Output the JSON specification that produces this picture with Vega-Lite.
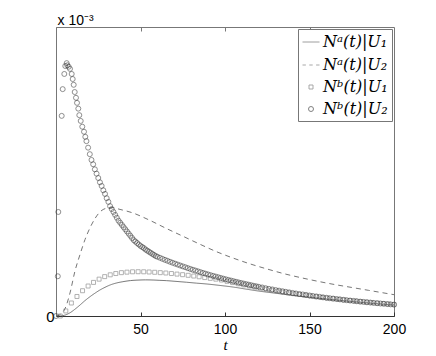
{
"$schema":"https://vega.github.io/schema/vega-lite/v6.json",
"width":338,"height":289,
"autosize":{"type":"none"},
"padding":{"left":56,"top":27,"right":42,"bottom":40},
"background":"white",
"config":{"view":{"stroke":"#777","strokeWidth":1},"axis":{"grid":false,"labelFont":"Liberation Sans","labelFontSize":14,"labelColor":"#000","titleColor":"#000"}},
"datasets":{
"A":[
{"s":"A1","t":0,"v":0},{"s":"A1","t":2.4,"v":0},{"s":"A1","t":5,"v":0.01},{"s":"A1","t":8.3,"v":0.045},{"s":"A1","t":11,"v":0.09},{"s":"A1","t":14.2,"v":0.152},{"s":"A1","t":17,"v":0.21},{"s":"A1","t":20.1,"v":0.267},{"s":"A1","t":23,"v":0.315},{"s":"A1","t":26,"v":0.36},{"s":"A1","t":29,"v":0.397},{"s":"A1","t":32,"v":0.429},{"s":"A1","t":36,"v":0.458},{"s":"A1","t":39.6,"v":0.475},{"s":"A1","t":44,"v":0.49},{"s":"A1","t":49.7,"v":0.498},{"s":"A1","t":53,"v":0.5},{"s":"A1","t":57.4,"v":0.498},{"s":"A1","t":61,"v":0.494},{"s":"A1","t":65.5,"v":0.489},{"s":"A1","t":71,"v":0.479},{"s":"A1","t":77.3,"v":0.467},{"s":"A1","t":83,"v":0.455},{"s":"A1","t":89.2,"v":0.443},{"s":"A1","t":97,"v":0.423},{"s":"A1","t":105,"v":0.4},{"s":"A1","t":113,"v":0.37},{"s":"A1","t":120,"v":0.345},{"s":"A1","t":130,"v":0.315},{"s":"A1","t":140,"v":0.285},{"s":"A1","t":150,"v":0.26},{"s":"A1","t":160,"v":0.235},{"s":"A1","t":170,"v":0.212},{"s":"A1","t":180,"v":0.19},{"s":"A1","t":190,"v":0.17},{"s":"A1","t":200,"v":0.152},
{"s":"A2","t":0,"v":0},{"s":"A2","t":3,"v":0.03},{"s":"A2","t":5.3,"v":0.1},{"s":"A2","t":8.3,"v":0.32},{"s":"A2","t":11.2,"v":0.62},{"s":"A2","t":14.2,"v":0.85},{"s":"A2","t":17.2,"v":1.06},{"s":"A2","t":20.1,"v":1.22},{"s":"A2","t":23.1,"v":1.35},{"s":"A2","t":26,"v":1.44},{"s":"A2","t":29.6,"v":1.49},{"s":"A2","t":33.1,"v":1.5},{"s":"A2","t":37.9,"v":1.475},{"s":"A2","t":45,"v":1.43},{"s":"A2","t":55,"v":1.33},{"s":"A2","t":65,"v":1.215},{"s":"A2","t":75,"v":1.105},{"s":"A2","t":85,"v":0.995},{"s":"A2","t":95,"v":0.89},{"s":"A2","t":105,"v":0.8},{"s":"A2","t":115,"v":0.72},{"s":"A2","t":125,"v":0.65},{"s":"A2","t":135,"v":0.585},{"s":"A2","t":145,"v":0.53},{"s":"A2","t":155,"v":0.48},{"s":"A2","t":165,"v":0.435},{"s":"A2","t":175,"v":0.395},{"s":"A2","t":185,"v":0.355},{"s":"A2","t":200,"v":0.295}
],
"B":[
{"s":"B1","t":2.5,"v":0},{"s":"B1","t":5.8,"v":0.07},{"s":"B1","t":9.1,"v":0.18},{"s":"B1","t":12.4,"v":0.27},{"s":"B1","t":15.7,"v":0.35},{"s":"B1","t":19,"v":0.415},{"s":"B1","t":22.2,"v":0.465},{"s":"B1","t":25.5,"v":0.51},{"s":"B1","t":28.8,"v":0.545},{"s":"B1","t":32.1,"v":0.57},{"s":"B1","t":35.4,"v":0.588},{"s":"B1","t":38.7,"v":0.6},{"s":"B1","t":42,"v":0.607},{"s":"B1","t":45.3,"v":0.612},{"s":"B1","t":48.6,"v":0.613},{"s":"B1","t":51.9,"v":0.612},{"s":"B1","t":55.1,"v":0.609},{"s":"B1","t":58.4,"v":0.605},{"s":"B1","t":61.7,"v":0.6},{"s":"B1","t":65,"v":0.595},{"s":"B1","t":68.3,"v":0.588},{"s":"B1","t":71.6,"v":0.58},{"s":"B1","t":74.9,"v":0.572},{"s":"B1","t":78.2,"v":0.563},{"s":"B1","t":81.5,"v":0.553},{"s":"B1","t":84.7,"v":0.543},{"s":"B1","t":88,"v":0.532},{"s":"B1","t":91.3,"v":0.521},{"s":"B1","t":94.6,"v":0.51},{"s":"B1","t":97.9,"v":0.498},{"s":"B1","t":101.2,"v":0.48},{"s":"B1","t":104.5,"v":0.463},{"s":"B1","t":107.8,"v":0.446},{"s":"B1","t":111.1,"v":0.43},{"s":"B1","t":114.4,"v":0.415},{"s":"B1","t":117.7,"v":0.4},{"s":"B1","t":121,"v":0.386},{"s":"B1","t":124.3,"v":0.372},{"s":"B1","t":127.6,"v":0.358},{"s":"B1","t":130.9,"v":0.345},{"s":"B1","t":134.2,"v":0.333},{"s":"B1","t":137.5,"v":0.321},{"s":"B1","t":140.8,"v":0.309},{"s":"B1","t":144.1,"v":0.298},{"s":"B1","t":147.4,"v":0.288},{"s":"B1","t":150.7,"v":0.277},{"s":"B1","t":154,"v":0.267},{"s":"B1","t":157.3,"v":0.258},{"s":"B1","t":160.6,"v":0.248},{"s":"B1","t":163.9,"v":0.239},{"s":"B1","t":167.2,"v":0.231},{"s":"B1","t":170.5,"v":0.222},{"s":"B1","t":173.8,"v":0.214},{"s":"B1","t":177.1,"v":0.207},{"s":"B1","t":180.4,"v":0.199},{"s":"B1","t":183.6,"v":0.192},{"s":"B1","t":186.9,"v":0.185},{"s":"B1","t":190.2,"v":0.178},{"s":"B1","t":193.5,"v":0.172},{"s":"B1","t":196.8,"v":0.166},{"s":"B1","t":200,"v":0.16},
{"s":"B2","t":0,"v":0},{"s":"B2","t":1.07,"v":0.55},{"s":"B2","t":1.36,"v":1.44},{"s":"B2","t":3.37,"v":2.77},{"s":"B2","t":3.96,"v":3.14},{"s":"B2","t":4.91,"v":3.35},{"s":"B2","t":5.5,"v":3.46},{"s":"B2","t":6.33,"v":3.5},{"s":"B2","t":6.69,"v":3.47},{"s":"B2","t":7.5,"v":3.45},{"s":"B2","t":8.28,"v":3.42},{"s":"B2","t":9.29,"v":3.35},{"s":"B2","t":9.88,"v":3.28},{"s":"B2","t":10.47,"v":3.2},{"s":"B2","t":11.07,"v":3.1},{"s":"B2","t":11.83,"v":3.02},{"s":"B2","t":12.43,"v":2.95},{"s":"B2","t":13.2,"v":2.87},{"s":"B2","t":13.79,"v":2.78},{"s":"B2","t":14.62,"v":2.7},{"s":"B2","t":15.56,"v":2.62},{"s":"B2","t":16.57,"v":2.55},{"s":"B2","t":17.34,"v":2.48},
{"s":"B2","t":18,"v":2.42},{"s":"B2","t":19,"v":2.33},{"s":"B2","t":20,"v":2.24},{"s":"B2","t":21,"v":2.16},{"s":"B2","t":22,"v":2.1},{"s":"B2","t":23,"v":2.03},{"s":"B2","t":24,"v":1.97},{"s":"B2","t":25,"v":1.91},{"s":"B2","t":26,"v":1.85},{"s":"B2","t":27,"v":1.8},{"s":"B2","t":28,"v":1.74},{"s":"B2","t":29,"v":1.69},{"s":"B2","t":30,"v":1.63},{"s":"B2","t":31,"v":1.58},{"s":"B2","t":32,"v":1.52},{"s":"B2","t":33,"v":1.48},{"s":"B2","t":34,"v":1.44},{"s":"B2","t":35,"v":1.4},{"s":"B2","t":36,"v":1.36},{"s":"B2","t":37,"v":1.32},{"s":"B2","t":38,"v":1.29},{"s":"B2","t":39,"v":1.26},{"s":"B2","t":40,"v":1.23},{"s":"B2","t":41,"v":1.2},{"s":"B2","t":42,"v":1.17},{"s":"B2","t":43,"v":1.14},{"s":"B2","t":44,"v":1.11},{"s":"B2","t":45,"v":1.08},{"s":"B2","t":46,"v":1.05},{"s":"B2","t":47,"v":1.03},{"s":"B2","t":48,"v":1.01},{"s":"B2","t":49,"v":0.99},{"s":"B2","t":50,"v":0.97},{"s":"B2","t":51,"v":0.955},{"s":"B2","t":52,"v":0.94},{"s":"B2","t":53,"v":0.92},{"s":"B2","t":54,"v":0.905},{"s":"B2","t":55,"v":0.89},{"s":"B2","t":56,"v":0.875},{"s":"B2","t":57,"v":0.86},{"s":"B2","t":58,"v":0.845},{"s":"B2","t":59,"v":0.83},{"s":"B2","t":60,"v":0.82},
{"s":"B2","t":61.5,"v":0.806},{"s":"B2","t":63,"v":0.791},{"s":"B2","t":64.5,"v":0.777},{"s":"B2","t":66,"v":0.764},{"s":"B2","t":67.5,"v":0.75},{"s":"B2","t":69,"v":0.737},{"s":"B2","t":70.5,"v":0.724},{"s":"B2","t":72,"v":0.712},{"s":"B2","t":73.5,"v":0.699},{"s":"B2","t":75,"v":0.687},{"s":"B2","t":76.5,"v":0.675},{"s":"B2","t":78,"v":0.663},{"s":"B2","t":79.5,"v":0.651},{"s":"B2","t":81,"v":0.64},{"s":"B2","t":82.5,"v":0.629},{"s":"B2","t":84,"v":0.618},{"s":"B2","t":85.5,"v":0.607},{"s":"B2","t":87,"v":0.596},{"s":"B2","t":88.5,"v":0.586},{"s":"B2","t":90,"v":0.575},{"s":"B2","t":91.5,"v":0.565},{"s":"B2","t":93,"v":0.555},{"s":"B2","t":94.5,"v":0.546},{"s":"B2","t":96,"v":0.536},{"s":"B2","t":97.5,"v":0.527},{"s":"B2","t":99,"v":0.517},{"s":"B2","t":100.5,"v":0.508},{"s":"B2","t":102,"v":0.499},{"s":"B2","t":103.5,"v":0.491},{"s":"B2","t":105,"v":0.482},{"s":"B2","t":106.5,"v":0.474},{"s":"B2","t":108,"v":0.465},{"s":"B2","t":109.5,"v":0.457},{"s":"B2","t":111,"v":0.449},{"s":"B2","t":112.5,"v":0.441},{"s":"B2","t":114,"v":0.434},{"s":"B2","t":115.5,"v":0.426},{"s":"B2","t":117,"v":0.418},{"s":"B2","t":118.5,"v":0.411},{"s":"B2","t":120,"v":0.404},
{"s":"B2","t":122,"v":0.395},{"s":"B2","t":124,"v":0.385},{"s":"B2","t":126,"v":0.376},{"s":"B2","t":128,"v":0.368},{"s":"B2","t":130,"v":0.359},{"s":"B2","t":132,"v":0.351},{"s":"B2","t":134,"v":0.343},{"s":"B2","t":136,"v":0.335},{"s":"B2","t":138,"v":0.327},{"s":"B2","t":140,"v":0.319},{"s":"B2","t":142,"v":0.312},{"s":"B2","t":144,"v":0.305},{"s":"B2","t":146,"v":0.298},{"s":"B2","t":148,"v":0.291},{"s":"B2","t":150,"v":0.284},{"s":"B2","t":152,"v":0.277},{"s":"B2","t":154,"v":0.271},{"s":"B2","t":156,"v":0.265},{"s":"B2","t":158,"v":0.258},{"s":"B2","t":160,"v":0.252},{"s":"B2","t":162,"v":0.246},{"s":"B2","t":164,"v":0.241},{"s":"B2","t":166,"v":0.235},{"s":"B2","t":168,"v":0.23},{"s":"B2","t":170,"v":0.224},{"s":"B2","t":172,"v":0.219},{"s":"B2","t":174,"v":0.214},{"s":"B2","t":176,"v":0.209},{"s":"B2","t":178,"v":0.204},{"s":"B2","t":180,"v":0.199},{"s":"B2","t":182,"v":0.195},{"s":"B2","t":184,"v":0.19},{"s":"B2","t":186,"v":0.186},{"s":"B2","t":188,"v":0.181},{"s":"B2","t":190,"v":0.177},{"s":"B2","t":192,"v":0.173},{"s":"B2","t":194,"v":0.169},{"s":"B2","t":196,"v":0.165},{"s":"B2","t":198,"v":0.161},{"s":"B2","t":200,"v":0.157}
]},
"resolve":{"axis":{"x":"independent"}},
"layer":[
{"data":{"name":"A"},
 "mark":{"type":"line","stroke":"#666","strokeWidth":0.9,"interpolate":"monotone","clip":true},
 "encoding":{
  "x":{"field":"t","type":"quantitative","scale":{"domain":[0,200],"nice":false,"zero":false},
       "axis":{"orient":"bottom","values":[50,100,150,200],"tickSize":-4,"tickColor":"#333","labelPadding":10,"labelFlush":false,"domainColor":"#333","title":"t","titleFont":"Liberation Serif","titleFontStyle":"italic","titleFontWeight":"normal","titleFontSize":15,"titlePadding":1}},
  "y":{"field":"v","type":"quantitative","scale":{"domain":[0,4],"nice":false},
       "axis":{"values":[0],"labelExpr":"'0'","labelFontSize":15,"ticks":false,"labelPadding":2,"domainColor":"#777","title":"x 10⁻³","titleAngle":0,"titleAlign":"left","titleBaseline":"alphabetic","titleX":1,"titleY":-3,"titleFont":"Liberation Sans","titleFontWeight":"normal","titleFontSize":14}},
  "strokeDash":{"field":"s","type":"nominal","scale":{"domain":["A1","A2"],"range":[[1,0],[5,4]]},"legend":null}
 }},
{"data":{"name":"B"},
 "mark":{"type":"point","filled":false,"strokeWidth":0.8},
 "encoding":{
  "x":{"field":"t","type":"quantitative","axis":{"orient":"top","values":[50,100,150],"labels":false,"tickSize":-4,"tickColor":"#777","domain":false,"title":null}},
  "y":{"field":"v","type":"quantitative"},
  "shape":{"field":"s","type":"nominal","scale":{"domain":["A1","A2","B1","B2"],"range":["M-1,0H1","M-1,0H-0.6M-0.2,0H0.2M0.6,0H1","square","circle"]},
    "legend":{"title":null,"orient":"top-right","offset":2,"fillColor":"white","strokeColor":"#777","padding":4,"rowPadding":6,"labelFont":"DejaVu Serif","labelFontStyle":"italic","labelFontSize":16,"labelOffset":3,"symbolStrokeWidth":0.9,
      "labelExpr":"datum.label=='A1'?'Nᵃ(t)|U₁':datum.label=='A2'?'Nᵃ(t)|U₂':datum.label=='B1'?'Nᵇ(t)|U₁':'Nᵇ(t)|U₂'"}},
  "size":{"field":"s","type":"nominal","scale":{"type":"ordinal","domain":["A1","A2","B1","B2"],"range":[289,289,16,25]}},
  "stroke":{"field":"s","type":"nominal","scale":{"domain":["A1","A2","B1","B2"],"range":["#666","#777","#777","#3a3a3a"]}}
 }}
]
}
